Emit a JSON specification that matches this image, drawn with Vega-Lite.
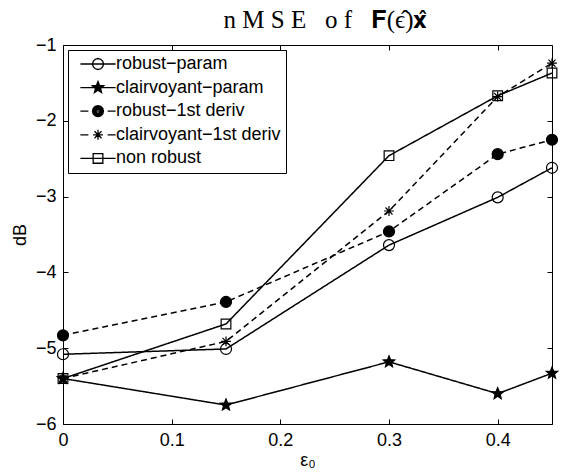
{
  "$schema": "https://vega.github.io/schema/vega-lite/v6.json",
  "width": 489,
  "height": 379,
  "autosize": "none",
  "padding": {"left": 63, "top": 45, "right": 24, "bottom": 50},
  "background": "white",
  "title": {
    "text": "n M S E\u00a0\u00a0\u00a0o f\u00a0\u00a0\u00a0𝐅(ϵ̂)𝐱̂",
    "font": "Liberation Serif, DejaVu Serif",
    "fontSize": 25,
    "fontWeight": "normal",
    "color": "black",
    "anchor": "middle",
    "dx": 18,
    "offset": 3
  },
  "config": {
    "font": "Liberation Sans",
    "view": {"stroke": "black", "strokeWidth": 1},
    "axis": {
      "labelFont": "Liberation Sans",
      "labelFontSize": 18,
      "labelColor": "black",
      "labelFlush": false,
      "titleFont": "Liberation Sans",
      "titleFontSize": 18,
      "titleFontWeight": "normal",
      "titleColor": "black",
      "domainColor": "black",
      "tickColor": "black",
      "grid": false,
      "tickSize": -5
    }
  },
  "data": {
    "values": [
      {"eps": 0, "dB": -5.08, "s": "robust−param"},
      {"eps": 0.15, "dB": -5.01, "s": "robust−param"},
      {"eps": 0.3, "dB": -3.64, "s": "robust−param"},
      {"eps": 0.4, "dB": -3.01, "s": "robust−param"},
      {"eps": 0.45, "dB": -2.62, "s": "robust−param"},
      {"eps": 0, "dB": -5.40, "s": "clairvoyant−param"},
      {"eps": 0.15, "dB": -5.75, "s": "clairvoyant−param"},
      {"eps": 0.3, "dB": -5.18, "s": "clairvoyant−param"},
      {"eps": 0.4, "dB": -5.60, "s": "clairvoyant−param"},
      {"eps": 0.45, "dB": -5.33, "s": "clairvoyant−param"},
      {"eps": 0, "dB": -4.83, "s": "robust−1st deriv"},
      {"eps": 0.15, "dB": -4.39, "s": "robust−1st deriv"},
      {"eps": 0.3, "dB": -3.46, "s": "robust−1st deriv"},
      {"eps": 0.4, "dB": -2.44, "s": "robust−1st deriv"},
      {"eps": 0.45, "dB": -2.25, "s": "robust−1st deriv"},
      {"eps": 0, "dB": -5.40, "s": "clairvoyant−1st deriv"},
      {"eps": 0.15, "dB": -4.91, "s": "clairvoyant−1st deriv"},
      {"eps": 0.3, "dB": -3.19, "s": "clairvoyant−1st deriv"},
      {"eps": 0.4, "dB": -1.68, "s": "clairvoyant−1st deriv"},
      {"eps": 0.45, "dB": -1.24, "s": "clairvoyant−1st deriv"},
      {"eps": 0, "dB": -5.40, "s": "non robust"},
      {"eps": 0.15, "dB": -4.68, "s": "non robust"},
      {"eps": 0.3, "dB": -2.46, "s": "non robust"},
      {"eps": 0.4, "dB": -1.67, "s": "non robust"},
      {"eps": 0.45, "dB": -1.37, "s": "non robust"}
    ]
  },
  "resolve": {
    "axis": {"x": "independent", "y": "independent"},
    "scale": {"shape": "independent", "fill": "independent"}
  },
  "layer": [
    {
      "mark": {"type": "line", "color": "black", "strokeWidth": 1.5},
      "encoding": {
        "x": {
          "field": "eps", "type": "quantitative",
          "scale": {"domain": [0, 0.45], "nice": false, "zero": false},
          "axis": {"values": [0, 0.1, 0.2, 0.3, 0.4], "format": ".1~f", "title": "ε₀", "labelPadding": 12, "titlePadding": 2, "domain": false}
        },
        "y": {
          "field": "dB", "type": "quantitative",
          "scale": {"domain": [-6, -1], "nice": false, "zero": false},
          "axis": {"values": [-6, -5, -4, -3, -2, -1], "title": "dB", "labelPadding": 12, "titlePadding": 6, "domain": false}
        },
        "detail": {"field": "s"},
        "strokeDash": {
          "field": "s", "type": "nominal",
          "scale": {
            "domain": ["non robust", "clairvoyant−1st deriv", "robust−1st deriv", "clairvoyant−param", "robust−param"],
            "range": [[1, 0], [6, 4], [6, 4], [1, 0], [1, 0]]
          },
          "legend": null
        }
      }
    },
    {
      "mark": {"type": "point", "stroke": "black", "strokeWidth": 1.2, "size": 121, "opacity": 1},
      "encoding": {
        "x": {
          "field": "eps", "type": "quantitative",
          "axis": {"orient": "top", "values": [0, 0.1, 0.2, 0.3, 0.4], "labels": false, "title": null, "domain": false}
        },
        "y": {
          "field": "dB", "type": "quantitative",
          "axis": {"orient": "right", "values": [-6, -5, -4, -3, -2, -1], "labels": false, "title": null, "domain": false}
        },
        "shape": {
          "field": "s", "type": "nominal",
          "scale": {
            "domain": ["non robust", "robust−param", "clairvoyant−param", "robust−1st deriv", "clairvoyant−1st deriv"],
            "range": [
              "M-0.88,-0.88L0.88,-0.88L0.88,0.88L-0.88,0.88Z",
              "circle",
              "M0,-1.1L0.282,-0.388L1.046,-0.34L0.457,0.148L0.647,0.89L0,0.48L-0.647,0.89L-0.457,0.148L-1.046,-0.34L-0.282,-0.388Z",
              "circle",
              "M-0.9,0L0.9,0M0,-0.9L0,0.9M-0.64,-0.64L0.64,0.64M-0.64,0.64L0.64,-0.64"
            ]
          },
          "legend": null
        },
        "fill": {
          "field": "s", "type": "nominal",
          "scale": {
            "domain": ["non robust", "robust−param", "clairvoyant−param", "robust−1st deriv", "clairvoyant−1st deriv"],
            "range": ["transparent", "transparent", "black", "black", "black"]
          },
          "legend": null
        }
      }
    },
    {
      "transform": [{"filter": "datum.eps < 0"}],
      "mark": {"type": "point", "filled": false, "color": "black", "strokeWidth": 1.3, "size": 121, "opacity": 1},
      "encoding": {
        "x": {"field": "eps", "type": "quantitative", "axis": null},
        "y": {"field": "dB", "type": "quantitative", "axis": null},
        "shape": {
          "field": "s", "type": "nominal",
          "scale": {
            "domain": ["robust−param", "clairvoyant−param", "robust−1st deriv", "clairvoyant−1st deriv", "non robust"],
            "range": [
              "M-3.2,0L3.2,0M1,0L0.866,0.5L0.5,0.866L0,1L-0.5,0.866L-0.866,0.5L-1,0L-0.866,-0.5L-0.5,-0.866L0,-1L0.5,-0.866L0.866,-0.5Z",
              "M-3.2,0L3.2,0M0,-1.1L0.282,-0.388L1.046,-0.34L0.457,0.148L0.647,0.89L0,0.48L-0.647,0.89L-0.457,0.148L-1.046,-0.34L-0.282,-0.388ZM0,-0.935L0.24,-0.33L0.889,-0.289L0.388,0.126L0.55,0.757L0,0.408L-0.55,0.757L-0.388,0.126L-0.889,-0.289L-0.24,-0.33ZM0,-0.715L0.183,-0.252L0.68,-0.221L0.297,0.096L0.421,0.579L0,0.312L-0.421,0.579L-0.297,0.096L-0.68,-0.221L-0.183,-0.252ZM0,-0.495L0.127,-0.175L0.471,-0.153L0.206,0.067L0.291,0.4L0,0.216L-0.291,0.4L-0.206,0.067L-0.471,-0.153L-0.127,-0.175ZM0,-0.275L0.071,-0.097L0.262,-0.085L0.114,0.037L0.162,0.223L0,0.12L-0.162,0.223L-0.114,0.037L-0.262,-0.085L-0.071,-0.097Z",
              "M-3.2,0L-1.75,0M1.75,0L3.2,0M1,0L0.866,0.5L0.5,0.866L0,1L-0.5,0.866L-0.866,0.5L-1,0L-0.866,-0.5L-0.5,-0.866L0,-1L0.5,-0.866L0.866,-0.5ZM0.78,0L0.675,0.39L0.39,0.675L0,0.78L-0.39,0.675L-0.675,0.39L-0.78,0L-0.675,-0.39L-0.39,-0.675L0,-0.78L0.39,-0.675L0.675,-0.39ZM0.56,0L0.485,0.28L0.28,0.485L0,0.56L-0.28,0.485L-0.485,0.28L-0.56,0L-0.485,-0.28L-0.28,-0.485L0,-0.56L0.28,-0.485L0.485,-0.28ZM0.34,0L0.294,0.17L0.17,0.294L0,0.34L-0.17,0.294L-0.294,0.17L-0.34,0L-0.294,-0.17L-0.17,-0.294L0,-0.34L0.17,-0.294L0.294,-0.17ZM-0.14,0L0.14,0M0,-0.14L0,0.14",
              "M-3.2,0L-1.75,0M1.75,0L3.2,0M-0.9,0L0.9,0M0,-0.9L0,0.9M-0.64,-0.64L0.64,0.64M-0.64,0.64L0.64,-0.64",
              "M-3.2,0L3.2,0M-0.88,-0.88L0.88,-0.88L0.88,0.88L-0.88,0.88Z"
            ]
          },
          "legend": {
            "title": null,
            "orient": "top-left",
            "offset": 5,
            "padding": 5,
            "strokeColor": "black",
            "fillColor": "white",
            "symbolSize": 121,
            "symbolStrokeWidth": 1.3,
            "symbolStrokeColor": "black",
            "symbolFillColor": "transparent",
            "symbolOpacity": 1,
            "symbolOffset": 16,
            "labelOffset": 9,
            "rowPadding": 5.6,
            "labelFont": "Liberation Sans",
            "labelFontSize": 18,
            "labelColor": "black",
            "labelLimit": 400
          }
        }
      }
    }
  ]
}
